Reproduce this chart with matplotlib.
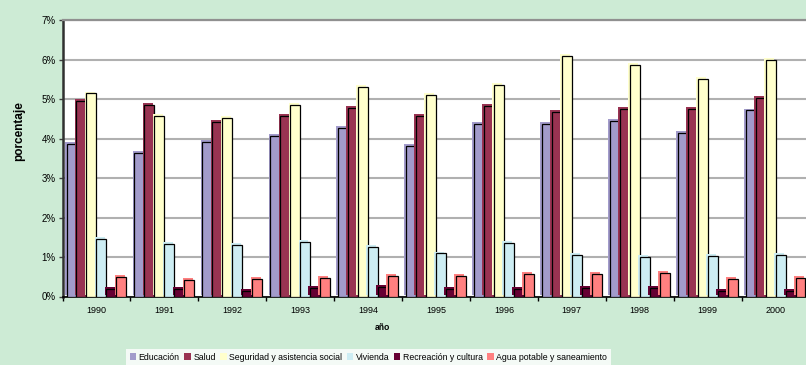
import matplotlib
matplotlib.use("Agg")
import matplotlib.pyplot as plt
import matplotlib.patheffects as pe
from matplotlib.patches import Patch
import numpy as np

plt.rcParams['font.family'] = ['Liberation Sans', 'DejaVu Sans']

years = ['1990', '1991', '1992', '1993', '1994', '1995',
         '1996', '1997', '1998', '1999', '2000']

series_names = ['Educación', 'Salud', 'Seguridad y asistencia social',
                'Vivienda', 'Recreación y cultura', 'Agua potable y saneamiento']

educacion = [3.87, 3.64, 3.91, 4.07, 4.27, 3.81, 4.37, 4.36, 4.45, 4.13, 4.71]
salud = [4.94, 4.86, 4.43, 4.58, 4.78, 4.58, 4.82, 4.66, 4.74, 4.75, 5.03]
seguridad = [5.14, 4.56, 4.52, 4.86, 5.30, 5.11, 5.36, 6.10, 5.85, 5.51, 6.00]
vivienda = [1.45, 1.34, 1.30, 1.39, 1.26, 1.09, 1.35, 1.06, 0.99, 1.02, 1.05]
recreacion = [0.20, 0.18, 0.15, 0.22, 0.25, 0.18, 0.19, 0.21, 0.21, 0.15, 0.15]
agua = [0.49, 0.43, 0.44, 0.46, 0.52, 0.52, 0.57, 0.56, 0.59, 0.45, 0.46]

colors = ['#A29BCB', '#993352', '#FFFFCC', '#CDEDF3', '#660033', '#FF8080']
bg = '#CDEBD5'

W, H = 806, 365
fig = plt.figure(figsize=(W / 100, H / 100), dpi=100, facecolor=bg)
ax = fig.add_axes([62.5 / W, 68.5 / H, 747 / W, 276.5 / H])
ax.set_facecolor('white')

data = [educacion, salud, seguridad, vivienda, recreacion, agua]
x = np.arange(len(years))
bw = 0.147
for i, (vals, c) in enumerate(zip(data, colors)):
    offs = (i - 2.5) * bw
    bars = ax.bar(x + offs, np.array(vals) / 100, width=bw, color=c,
                  edgecolor='black', linewidth=0.9, zorder=3)
    for b in bars:
        b.set_path_effects([pe.SimplePatchShadow(offset=(-1.2, 1.4),
                                                 shadow_rgbFace=c, alpha=1.0),
                            pe.Normal()])

ax.set_xlim(-0.5, len(years) - 0.5)
ax.set_ylim(0, 0.07)
ax.set_yticks(np.arange(0, 0.071, 0.01))
ax.set_yticklabels([f'{int(v)}%' for v in range(8)], fontsize=7)
ax.set_xticks(x)
ax.set_xticklabels(years, fontsize=6.5)
ax.set_xticks(np.arange(-0.5, len(years), 1), minor=True)
ax.tick_params(axis='x', which='major', length=0, pad=7)
ax.tick_params(axis='x', which='minor', length=3, width=1, color='black')
ax.tick_params(axis='y', length=3, width=1, color='#404040', pad=2)
ax.grid(axis='y', color='#B0B0B0', linewidth=1.5, zorder=0)
ax.set_axisbelow(True)

for s in ['top', 'right']:
    ax.spines[s].set_color('#909090')
    ax.spines[s].set_linewidth(1.6)
ax.spines['left'].set_color('#303030')
ax.spines['left'].set_linewidth(1.8)
ax.spines['bottom'].set_color('black')
ax.spines['bottom'].set_linewidth(1.2)

fig.text(19 / W, 1 - 131 / H, 'porcentaje', rotation=90, fontsize=8.5,
         fontweight='bold', ha='center', va='center')
fig.text(382 / W, 1 - 327 / H, 'año', fontsize=6.2, fontweight='bold',
         ha='center', va='center')

handles = [Patch(facecolor=c, edgecolor='none') for c in colors]
leg = fig.legend(handles, series_names, loc='center left',
                 bbox_to_anchor=(126 / W, 1 - 357 / H), ncol=6,
                 fontsize=6.3, frameon=True, fancybox=False,
                 handlelength=0.75, handleheight=0.75, handletextpad=0.3,
                 columnspacing=0.5, borderpad=0.4, borderaxespad=0)
leg.get_frame().set_facecolor('white')
leg.get_frame().set_edgecolor('none')

fig.savefig('out.png', dpi=100, facecolor=bg)
